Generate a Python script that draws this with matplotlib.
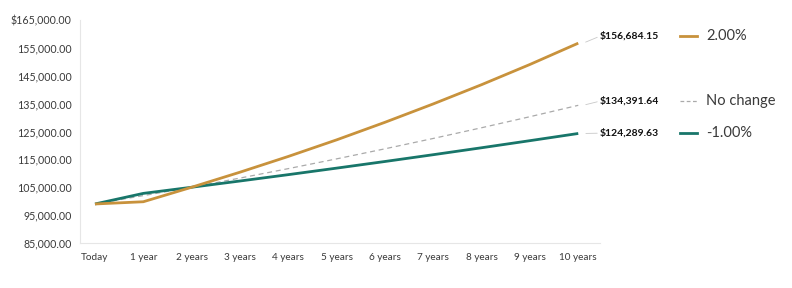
import matplotlib
matplotlib.use("Agg")
import matplotlib.pyplot as plt
import matplotlib.transforms as mtransforms
from matplotlib.lines import Line2D

# ---- data ----
categories = ["Today", "1 year", "2 years", "3 years", "4 years", "5 years",
              "6 years", "7 years", "8 years", "9 years", "10 years"]
series_up = [99000, 99800, 105000, 110400, 116050, 122000, 128300, 134900, 141800, 149050, 156684.15]
series_flat = [99000, 102000, 105000, 108290, 111680, 115180, 118790, 122510, 126350, 130310, 134391.64]
series_down = [99000, 102800, 105000, 107240, 109520, 111860, 114240, 116680, 119170, 121710, 124289.63]
series_names = ["2.00%", "No change", "-1.00%"]
end_labels = ["$156,684.15", "$134,391.64", "$124,289.63"]
label_y = [159200, 135900, 124400]
y_ticks = [85000, 95000, 105000, 115000, 125000, 135000, 145000, 155000, 165000]
y_tick_labels = ["85,000.00", "95,000.00", "105,000.00", "115,000.00", "125,000.00",
                 "135,000.00", "145,000.00", "155,000.00", "$165,000.00"]

GOLD = "#C8923C"
TEAL = "#18766A"
GRAY = "#AAAAAA"
TXT = "#3A3A3A"

plt.rcParams["font.family"] = ["Lato", "DejaVu Sans"]

fig = plt.figure(figsize=(7.92, 2.88), dpi=100)
ax = fig.add_axes([80 / 792, 1 - 243 / 288, 520 / 792, 223 / 288])

x = list(range(len(categories)))
ax.plot(x, series_flat, color=GRAY, lw=0.9, ls=(0, (4, 3)), zorder=2)
ax.plot(x, series_down, color=TEAL, lw=2.0, zorder=3, solid_capstyle="butt")
ax.plot(x, series_up, color=GOLD, lw=2.0, zorder=4, solid_capstyle="butt")

ax.set_xlim(-0.31, 10.45)
ax.set_ylim(85000, 165000)
ax.set_xticks(x)
ax.set_xticklabels(categories, fontsize=7.2, color=TXT)
ax.set_yticks(y_ticks)
ax.set_yticklabels(y_tick_labels, fontsize=7.7, color=TXT)
ax.tick_params(axis="both", length=0, pad=6)
ax.tick_params(axis="x", pad=7)
for s in ["top", "right"]:
    ax.spines[s].set_visible(False)
for s in ["left", "bottom"]:
    ax.spines[s].set_color("#E6E6E6")
    ax.spines[s].set_linewidth(0.8)

# end labels with leader lines
ends = [series_up[-1], series_flat[-1], series_down[-1]]
text_x = 10.45
for v, lab, ly in zip(ends, end_labels, label_y):
    ax.annotate(lab, xy=(10.1, v), xytext=(text_x, ly), textcoords="data",
                fontsize=7.5, fontweight="bold", color="#111111",
                ha="left", va="center", annotation_clip=False,
                arrowprops=dict(arrowstyle="-", color="#C8C8C8", lw=0.6,
                                shrinkA=0, shrinkB=2, relpos=(0, 0.5)))

# manual legend aligned with labels
trans = mtransforms.blended_transform_factory(fig.transFigure, ax.transData)
styles = [dict(color=GOLD, lw=2.0), dict(color=GRAY, lw=0.9, ls=(0, (3, 2))), dict(color=TEAL, lw=2.0)]
for name, ly, st in zip(series_names, label_y, styles):
    fig.add_artist(Line2D([680 / 792, 697 / 792], [ly, ly], transform=trans, **st))
    fig.text(706 / 792, ly, name, transform=trans, fontsize=10.5, color=TXT,
             ha="left", va="center")

fig.savefig("out.png", dpi=100, facecolor="white")
